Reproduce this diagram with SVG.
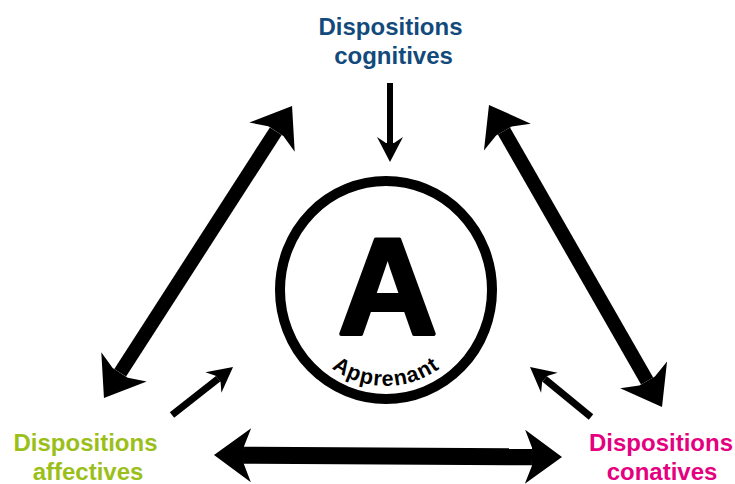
<svg xmlns="http://www.w3.org/2000/svg" width="735" height="484" viewBox="0 0 735 484">
<style>
  .lbl{font-family:"Liberation Sans",Arial,sans-serif;font-weight:bold;font-size:24px;text-anchor:middle}
  .cog{fill:#124a7b}
  .aff{fill:#9bbf1a}
  .con{fill:#e4007e}
  .big{stroke:#000;fill:none;marker-start:url(#hb);marker-end:url(#hb)}
  .small{stroke:#000;fill:none;marker-end:url(#hs)}
</style>
<defs>
  <marker id="hb" markerUnits="userSpaceOnUse" viewBox="-40 -30 44 60" markerWidth="44" markerHeight="60" refX="-30" refY="0" orient="auto-start-reverse" overflow="visible">
    <path d="M0,0 L-37,-27 L-30,-9 L-30,9 L-37,27 Z" fill="#000"/>
  </marker>
  <marker id="hs" markerUnits="userSpaceOnUse" viewBox="-28 -15 30 30" markerWidth="30" markerHeight="30" refX="-19" refY="0" orient="auto" overflow="visible">
    <path d="M0,0 L-25,-13 L-19,-4 L-19,4 L-25,13 Z" fill="#000"/>
  </marker>
  <path id="arc" d="M293,290 A93,96 0 0 0 479,290"/>
</defs>
<rect width="735" height="484" fill="#fff"/>

<g id="connectors">
  <line class="big" stroke-width="14" x1="120.2" y1="372.8" x2="275.8" y2="131.2"/>
  <line class="big" stroke-width="14" x1="503.9" y1="131" x2="647.1" y2="381"/>
  <line class="big" stroke-width="17" x1="244" y1="455.2" x2="532" y2="456.8"/>
  <line class="small" stroke-width="6" x1="390" y1="83" x2="390" y2="143"/>
  <line class="small" stroke-width="7" x1="172" y1="415" x2="218.1" y2="378.8"/>
  <line class="small" stroke-width="7" x1="591" y1="417" x2="544.7" y2="379"/>
</g>

<g id="node-apprenant">
  <ellipse cx="386" cy="290" rx="106" ry="109" fill="none" stroke="#000" stroke-width="10"/>
  <text x="387.5" y="334" font-family="'Liberation Sans',Arial,sans-serif" font-weight="bold" font-size="138" text-anchor="middle" fill="#000" stroke="#000" stroke-width="4" stroke-linejoin="round">A</text>
  <text font-family="'Liberation Sans',Arial,sans-serif" font-weight="bold" font-size="21.5" letter-spacing="1" fill="#000"><textPath href="#arc" startOffset="50%" text-anchor="middle">Apprenant</textPath></text>
</g>

<g id="node-cognitives">
  <text class="lbl cog" x="390.5" y="35">Dispositions</text>
  <text class="lbl cog" x="393.5" y="64">cognitives</text>
</g>

<g id="node-affectives">
  <text class="lbl aff" x="85.5" y="451">Dispositions</text>
  <text class="lbl aff" x="88" y="480">affectives</text>
</g>

<g id="node-conatives">
  <text class="lbl con" x="661" y="451">Dispositions</text>
  <text class="lbl con" x="662" y="480">conatives</text>
</g>
</svg>
